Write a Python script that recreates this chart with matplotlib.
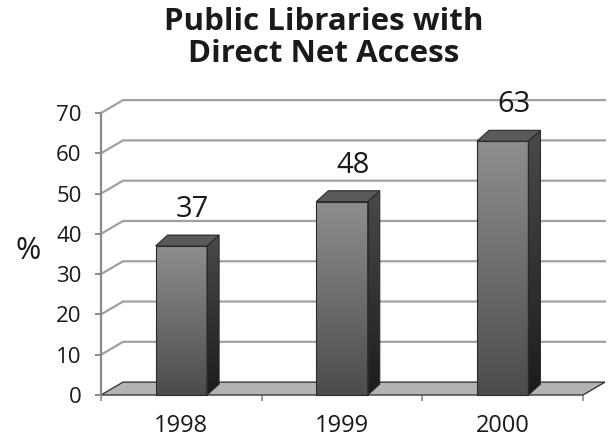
import numpy as np
import matplotlib
matplotlib.use("Agg")
import matplotlib.pyplot as plt
from matplotlib.patches import Polygon
from matplotlib.colors import LinearSegmentedColormap

years = ["1998", "1999", "2000"]
percent = [37, 48, 63]
y_ticks = [0, 10, 20, 30, 40, 50, 60, 70]

plt.rcParams['font.family'] = ['Open Sans', 'DejaVu Sans']
TEXT = '#1a1a1a'
GRID = '#a0a0a0'

# depth of the floor / back wall and of each bar, in data units
FLOOR_DX, FLOOR_DY = 0.137, 3.2
BAR_DX, BAR_DY = 0.075, 2.7
BAR_W = 0.32


def gradient_poly(ax, verts, top, bottom, edge='#2a2a2a', z=3):
    poly = Polygon(verts, closed=True, facecolor='none', edgecolor=edge,
                   lw=0.8, zorder=z + 0.1, clip_on=False)
    ax.add_patch(poly)
    xs = [v[0] for v in verts]
    ys = [v[1] for v in verts]
    grad = np.linspace(1, 0, 256).reshape(-1, 1)
    cmap = LinearSegmentedColormap.from_list('bar', [bottom, top])
    im = ax.imshow(grad, cmap=cmap, aspect='auto', origin='upper',
                   extent=[min(xs), max(xs), min(ys), max(ys)], zorder=z)
    im.set_clip_path(poly)
    im.set_clip_on(True)


fig = plt.figure(figsize=(6.13, 4.41), dpi=100)
ax = fig.add_axes([101 / 613, 46 / 441, 482 / 613, 282 / 441])
n = len(years)
x = np.arange(n)
xmin, xmax = -0.5, n - 0.5

# back wall gridlines with their diagonal to the front axis
for t in y_ticks[1:]:
    ax.plot([xmin, xmin + FLOOR_DX, xmax + FLOOR_DX], [t, t + FLOOR_DY, t + FLOOR_DY],
            color=GRID, lw=1.6, clip_on=False, zorder=1)

# floor
floor = Polygon([(xmin, 0), (xmax, 0), (xmax + FLOOR_DX, FLOOR_DY), (xmin + FLOOR_DX, FLOOR_DY)],
                closed=True, facecolor='#b3b3b3', edgecolor='#3a3a3a', lw=1.0,
                zorder=2, clip_on=False)
ax.add_patch(floor)

for xi, v in zip(x, percent):
    l, r = xi - BAR_W / 2, xi + BAR_W / 2
    # front face
    gradient_poly(ax, [(l, 0), (r, 0), (r, v), (l, v)], '#8e8e8e', '#4c4c4c')
    # side face
    gradient_poly(ax, [(r, 0), (r + BAR_DX, BAR_DY), (r + BAR_DX, v + BAR_DY), (r, v)],
                  '#4a4a4a', '#1c1c1c')
    # top face
    top = Polygon([(l, v), (r, v), (r + BAR_DX, v + BAR_DY), (l + BAR_DX, v + BAR_DY)],
                  closed=True, facecolor='#5a5a5a', edgecolor='#2a2a2a', lw=0.8,
                  zorder=3.2, clip_on=False)
    ax.add_patch(top)
    ax.annotate(str(v), (xi + BAR_DX / 2 + 0.03, v + BAR_DY), xytext=(0, 8),
                textcoords='offset points', ha='center', va='bottom',
                fontsize=21, color=TEXT)

ax.set_xlim(xmin, xmax)
ax.set_ylim(0, 70)

for s in ['top', 'right', 'bottom']:
    ax.spines[s].set_visible(False)
ax.spines['left'].set_color('#8a8a8a')
ax.spines['left'].set_linewidth(1.6)

ax.set_yticks(y_ticks)
ax.tick_params(axis='y', length=4, width=1.4, color='#8a8a8a', pad=10,
               labelsize=16, labelcolor=TEXT)
ax.set_xticks(x)
ax.set_xticklabels(years)
ax.set_xticks(np.arange(n + 1) - 0.5, minor=True)
ax.tick_params(axis='x', which='major', length=0, pad=14, labelsize=17, labelcolor=TEXT)
ax.tick_params(axis='x', which='minor', length=4, width=1.2, color='#8a8a8a')

fig.text(28 / 613, 1 - 251 / 441, '%', ha='center', va='center', fontsize=22, color=TEXT)
fig.text(324 / 613, 1 - 38 / 441, 'Public Libraries with\nDirect Net Access',
         ha='center', va='center', fontsize=22.5, fontweight='bold', color=TEXT,
         linespacing=1.12)

fig.savefig('out.png', dpi=100)
